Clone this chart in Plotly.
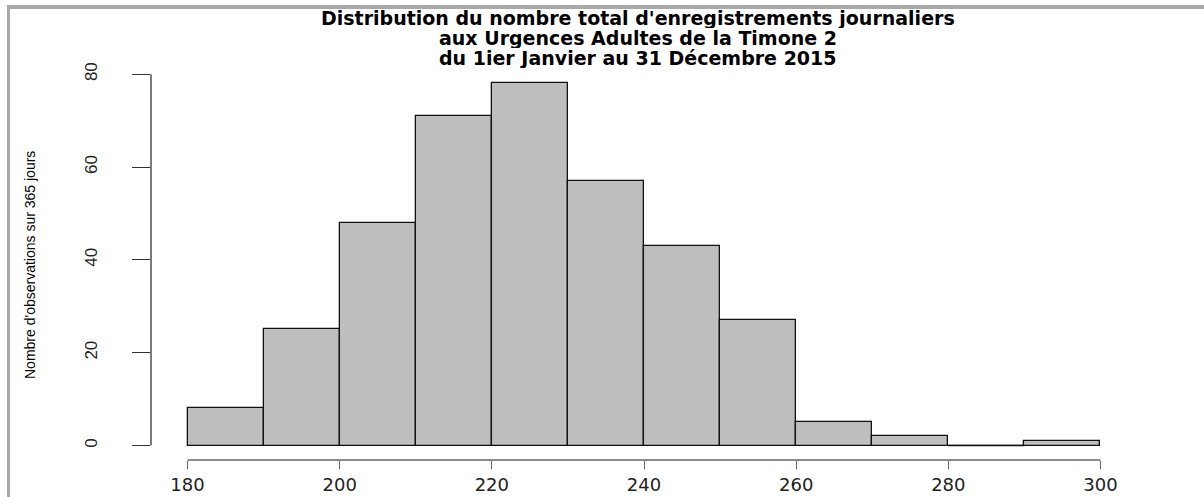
import plotly.graph_objects as go

# Data
bin_edges = [180, 190, 200, 210, 220, 230, 240, 250, 260, 270, 280, 290, 300]
counts = [8, 25, 48, 71, 78, 57, 43, 27, 5, 2, 0, 1]
x_ticks = [180, 200, 220, 240, 260, 280, 300]
y_ticks = [0, 20, 40, 60, 80]

title_lines = ["Distribution du nombre total d'enregistrements journaliers",
               "aux Urgences Adultes de la Timone 2",
               "du 1ier Janvier au 31 Décembre 2015"]
y_label = "Nombre d'observations sur 365 jours"

centers = [(a + b) / 2 for a, b in zip(bin_edges[:-1], bin_edges[1:])]
widths = [b - a for a, b in zip(bin_edges[:-1], bin_edges[1:])]

W, H = 1204, 497
L, R, T, B = 151, 67, 69, 37
pw, ph = W - L - R, H - T - B

xr = (bin_edges[0] - 0.04 * (bin_edges[-1] - bin_edges[0]),
      bin_edges[-1] + 0.04 * (bin_edges[-1] - bin_edges[0]))
ymax = max(counts)
yr = (-0.04 * ymax, ymax * 1.04)

fig = go.Figure()
fig.add_trace(go.Bar(
    x=centers, y=counts, width=widths,
    marker=dict(color="#BEBEBE", line=dict(color="#111111", width=1.3)),
    hoverinfo="x+y",
))

# empty bins are drawn by R as a flat outline at zero
zx, zy = [], []
for a, b, c in zip(bin_edges[:-1], bin_edges[1:], counts):
    if c == 0:
        zx += [a, b, None]
        zy += [0, 0, None]
fig.add_trace(go.Scatter(x=zx, y=zy, mode="lines",
                         line=dict(color="#111111", width=1.6), hoverinfo="skip"))


def px_to_paper_x(px):
    return (px - L) / pw


def px_to_paper_y(py):
    return (H - B - py) / ph


shapes = [
    dict(type="line", xref="x", yref="paper", x0=x_ticks[0], x1=x_ticks[-1], y0=0, y1=0,
         line=dict(color="#666666", width=1.3)),
    dict(type="line", xref="paper", yref="y", x0=0, x1=0, y0=y_ticks[0], y1=y_ticks[-1],
         line=dict(color="#333333", width=1.3)),
    # outer gray frame: top and left edges, drawn as thin filled bands
    dict(type="rect", xref="paper", yref="paper", layer="above",
         x0=px_to_paper_x(7), x1=px_to_paper_x(W + 10),
         y0=px_to_paper_y(9), y1=px_to_paper_y(5),
         line=dict(width=0), fillcolor="#A8A8A8"),
    dict(type="rect", xref="paper", yref="paper", layer="above",
         x0=px_to_paper_x(7), x1=px_to_paper_x(10),
         y0=px_to_paper_y(H + 10), y1=px_to_paper_y(5),
         line=dict(width=0), fillcolor="#A8A8A8"),
]

annotations = []
for i, line in enumerate(title_lines):
    annotations.append(dict(
        text="<b>" + line + "</b>", xref="paper", yref="paper",
        x=px_to_paper_x(638), y=px_to_paper_y(18 + 20 * i),
        xanchor="center", yanchor="middle", showarrow=False, height=20,
        font=dict(family="DejaVu Sans", size=19, color="black")))
annotations.append(dict(
    text=y_label, xref="paper", yref="paper",
    x=px_to_paper_x(30), y=px_to_paper_y(265), textangle=-90,
    xanchor="center", yanchor="middle", showarrow=False,
    font=dict(family="Liberation Sans Narrow, Arial Narrow, Liberation Sans", size=14, color="black")))

fig.update_layout(
    width=W, height=H,
    margin=dict(l=L, r=R, t=T, b=B, pad=0, autoexpand=False),
    paper_bgcolor="white", plot_bgcolor="white",
    showlegend=False,
    bargap=0,
    shapes=shapes,
    annotations=annotations,
    xaxis=dict(range=list(xr), tickvals=x_ticks, ticktext=[str(v) for v in x_ticks],
               showgrid=False, zeroline=False, showline=False, automargin=False,
               ticks="outside", ticklen=8, tickwidth=1.3, tickcolor="#666666",
               tickfont=dict(family="DejaVu Sans", size=18, color="#222222")),
    yaxis=dict(range=list(yr), tickvals=y_ticks, ticktext=[str(v) for v in y_ticks],
               showgrid=False, zeroline=False, showline=False, automargin=False,
               ticks="outside", ticklen=18, tickwidth=1.3, tickcolor="#333333",
               tickangle=-90, ticklabelstandoff=28,
               tickfont=dict(family="Liberation Sans Narrow, Arial Narrow, Liberation Sans",
                             size=17, color="#222222")),
)

fig.write_html("out.html",
               config={"displayModeBar": False},
               post_script="document.body.style.margin='0';")
